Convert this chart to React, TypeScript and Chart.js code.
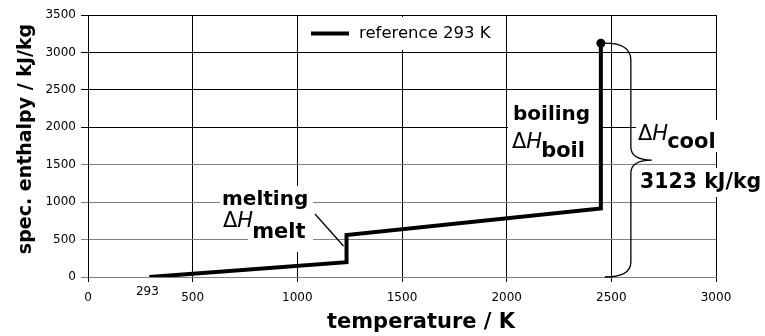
import React, { useEffect, useRef } from "react";
import { Chart, registerables } from "chart.js";

Chart.register(...registerables);

// ---- data ----
const temperatureK = [293, 1235, 1235, 2450, 2450];
const enthalpyKJkg = [0, 197, 560, 915, 3123];
const xTickValues = [0, 500, 1000, 1500, 2000, 2500, 3000];
const yTickValues = [0, 500, 1000, 1500, 2000, 2500, 3000, 3500];
const seriesLabel = "reference 293 K";
const referenceTemperature = 293;
const xAxisTitle = "temperature / K";
const yAxisTitle = "spec. enthalpy / kJ/kg";
const meltingLabel = "melting";
const boilingLabel = "boiling";
const meltSub = "melt";
const boilSub = "boil";
const coolSub = "cool";
const coolValueLabel = "3123 kJ/kg";

const FONT = '"DejaVu Sans"';

function drawDeltaH(ctx: CanvasRenderingContext2D, x: number, y: number, sub: string, subDy: number) {
  ctx.font = `21px ${FONT}`;
  ctx.fillText("Δ", x, y);
  let w = ctx.measureText("Δ").width;
  ctx.font = `italic 21px ${FONT}`;
  ctx.fillText("H", x + w, y);
  w += ctx.measureText("H").width;
  ctx.font = `bold 21px ${FONT}`;
  ctx.fillText(sub, x + w - 1, y + subDy);
}

const annotationPlugin = {
  id: "phaseAnnotations",
  beforeDatasetsDraw(chart: any) {
    const ctx: CanvasRenderingContext2D = chart.ctx;
    ctx.save();
    ctx.fillStyle = "#ffffff";
    const boxes = [
      [300, 17, 204, 33], // legend
      [220, 186, 93, 29], // melting
      [248, 215, 65, 37], // melt subscript
      [508, 98, 92, 62], // boiling
      [636, 120, 85, 32], // dH cool
      [638, 168, 127, 29], // 3123 kJ/kg
    ];
    for (const [x, y, w, h] of boxes) ctx.fillRect(x, y, w, h);
    ctx.restore();
  },
  afterDatasetsDraw(chart: any) {
    const ctx: CanvasRenderingContext2D = chart.ctx;
    const xs = chart.scales.x;
    const ys = chart.scales.y;
    ctx.save();
    ctx.fillStyle = "#000";
    ctx.strokeStyle = "#000";
    ctx.textBaseline = "alphabetic";
    ctx.textAlign = "left";

    // melting label + leader line
    ctx.font = `bold 20px ${FONT}`;
    ctx.fillText(meltingLabel, 222, 205);
    drawDeltaH(ctx, 223, 227, meltSub, 11);
    ctx.lineWidth = 1.3;
    ctx.beginPath();
    ctx.moveTo(315, 214);
    ctx.lineTo(xs.getPixelForValue(temperatureK[1]) - 3, 246);
    ctx.stroke();

    // boiling label
    ctx.font = `bold 20px ${FONT}`;
    ctx.fillText(boilingLabel, 513, 120);
    drawDeltaH(ctx, 512, 148, boilSub, 8.5);

    // brace for cooling enthalpy
    const top = ys.getPixelForValue(enthalpyKJkg[4]);
    const bottom = ys.getPixelForValue(0);
    const mid = (top + bottom) / 2;
    const x0 = xs.getPixelForValue(temperatureK[4]) + 4;
    const x1 = x0 + 26;
    const tip = x1 + 21;
    ctx.lineWidth = 1.3;
    ctx.beginPath();
    ctx.moveTo(x0, top);
    ctx.quadraticCurveTo(x1, top, x1, top + 17);
    ctx.lineTo(x1, mid - 13);
    ctx.quadraticCurveTo(x1, mid, tip, mid);
    ctx.quadraticCurveTo(x1, mid, x1, mid + 13);
    ctx.lineTo(x1, bottom - 15);
    ctx.quadraticCurveTo(x1, bottom, x0, bottom);
    ctx.stroke();

    drawDeltaH(ctx, 638, 140, coolSub, 8);
    ctx.font = `bold 20.5px ${FONT}`;
    ctx.fillText(coolValueLabel, 640, 188);

    // reference temperature marker label
    ctx.font = `12px ${FONT}`;
    ctx.textAlign = "center";
    ctx.textBaseline = "middle";
    ctx.fillText(String(referenceTemperature), xs.getPixelForValue(referenceTemperature) - 2, 292);

    // legend
    const ds = chart.data.datasets[0];
    ctx.lineWidth = ds.borderWidth;
    ctx.beginPath();
    ctx.moveTo(311, 33.5);
    ctx.lineTo(349, 33.5);
    ctx.stroke();
    ctx.font = `16.5px ${FONT}`;
    ctx.textAlign = "left";
    ctx.fillText(ds.label, 359, 34);

    // axis titles
    ctx.font = `bold 21px ${FONT}`;
    ctx.textAlign = "center";
    ctx.textBaseline = "alphabetic";
    ctx.fillText(xAxisTitle, 421, 328);
    ctx.translate(31, 139);
    ctx.rotate(-Math.PI / 2);
    ctx.font = `bold 19px ${FONT}`;
    ctx.fillText(yAxisTitle, 0, 0);
    ctx.restore();
  },
};

export default function App() {
  const canvasRef = useRef<HTMLCanvasElement | null>(null);

  useEffect(() => {
    const canvas = canvasRef.current;
    if (!canvas) return;
    const last = temperatureK.length - 1;
    const chart = new Chart(canvas, {
      type: "line",
      data: {
        datasets: [
          {
            label: seriesLabel,
            data: temperatureK.map((t, i) => ({ x: t, y: enthalpyKJkg[i] })),
            borderColor: "#000",
            backgroundColor: "#000",
            borderWidth: 4,
            borderJoinStyle: "miter",
            borderCapStyle: "butt",
            tension: 0,
            fill: false,
            pointRadius: (c: any) => (c.dataIndex === last ? 4.5 : 0),
            pointBackgroundColor: "#000",
            pointBorderColor: "#000",
            pointBorderWidth: 0,
          },
        ],
      },
      options: {
        animation: false,
        responsive: false,
        devicePixelRatio: 1,
        layout: { padding: { left: 0, right: 49, top: 15, bottom: 0 } },
        plugins: { legend: { display: false }, tooltip: { enabled: false } },
        scales: {
          x: {
            type: "linear",
            min: 0,
            max: 3000,
            afterBuildTicks: (s: any) => {
              s.ticks = xTickValues.map((v) => ({ value: v }));
            },
            afterFit: (s: any) => {
              s.height = 59;
            },
            ticks: {
              color: "#000",
              font: { family: "DejaVu Sans", size: 12 },
              padding: 9,
              maxRotation: 0,
              autoSkip: false,
              callback: (v: any) => String(v),
            },
            grid: { color: "#000", lineWidth: 1, tickLength: 5 },
            border: { color: "#808080", width: 1 },
            title: { display: false },
          },
          y: {
            type: "linear",
            min: 0,
            max: 3500,
            afterBuildTicks: (s: any) => {
              s.ticks = yTickValues.map((v) => ({ value: v }));
            },
            afterFit: (s: any) => {
              s.width = 88;
            },
            ticks: {
              color: "#000",
              font: { family: "DejaVu Sans", size: 12 },
              padding: 5,
              autoSkip: false,
              callback: (v: any) => String(v),
            },
            grid: {
              color: (c: any) => (c.tick && c.tick.value >= 2000 ? "#000" : "#808080"),
              lineWidth: 1,
              tickLength: 7,
            },
            border: { color: "#000", width: 1 },
            title: { display: false },
          },
        },
      },
      plugins: [annotationPlugin],
    } as any);
    return () => chart.destroy();
  }, []);

  return (
    <div style={{ position: "absolute", left: 0, top: 0, width: 765, height: 336, background: "#fff" }}>
      <canvas ref={canvasRef} width={765} height={336} style={{ display: "block" }} />
    </div>
  );
}
